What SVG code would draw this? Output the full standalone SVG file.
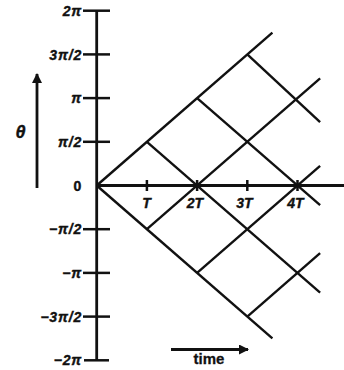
<svg xmlns="http://www.w3.org/2000/svg" width="344" height="370" viewBox="0 0 344 370">
<style>
.ax{stroke:#111;stroke-width:2.8;fill:none}
.tk{stroke:#111;stroke-width:2.5}
.ln{stroke:#111;stroke-width:2.4;fill:none}
.lb{font-family:"Liberation Sans",Arial,sans-serif;font-weight:bold;font-style:italic;font-size:14px;fill:#111;stroke:#111;stroke-width:0.4}
.yl{text-anchor:end;letter-spacing:0.8px}
.tl{text-anchor:middle}
</style>
<defs>
<marker id="ah" viewBox="0 0 10 10" refX="9" refY="5" markerWidth="11" markerHeight="10" markerUnits="userSpaceOnUse" orient="auto">
<path d="M0,0 L10,5 L0,10 z" fill="#111"/>
</marker>
</defs>
<rect width="344" height="370" fill="#fff"/>
<g id="axes">
<line class="ax" x1="96.7" y1="10.7" x2="96.7" y2="360.3"/>
<line class="ax" x1="96.7" y1="185.5" x2="344" y2="185.5"/>
<line class="tk" x1="83" y1="10.7" x2="110" y2="10.7"/>
<line class="tk" x1="83" y1="54.4" x2="110" y2="54.4"/>
<line class="tk" x1="83" y1="98.1" x2="110" y2="98.1"/>
<line class="tk" x1="83" y1="141.8" x2="110" y2="141.8"/>
<line class="tk" x1="83" y1="229.2" x2="110" y2="229.2"/>
<line class="tk" x1="83" y1="272.9" x2="110" y2="272.9"/>
<line class="tk" x1="83" y1="316.6" x2="110" y2="316.6"/>
<line class="tk" x1="84" y1="360.3" x2="109" y2="360.3"/>
<line class="tk" x1="146.9" y1="180" x2="146.9" y2="191"/>
<line class="tk" x1="197.1" y1="180" x2="197.1" y2="191"/>
<line class="tk" x1="247.3" y1="180" x2="247.3" y2="191"/>
<line class="tk" x1="297.5" y1="180" x2="297.5" y2="191"/>
</g>
<g id="y-labels">
<text class="lb yl" x="82" y="15.8">2π</text>
<text class="lb yl" x="82" y="59.5">3π/2</text>
<text class="lb yl" x="82" y="103.2">π</text>
<text class="lb yl" x="82" y="146.9">π/2</text>
<text class="lb yl" x="82" y="190.6" style="font-style:normal">0</text>
<text class="lb yl" x="82" y="234.3">−π/2</text>
<text class="lb yl" x="82" y="278">−π</text>
<text class="lb yl" x="82" y="321.7">−3π/2</text>
<text class="lb yl" x="82" y="365.4">−2π</text>
</g>
<g id="t-labels">
<text class="lb tl" x="146.5" y="207.5">T</text>
<text class="lb tl" x="195" y="207.5">2T</text>
<text class="lb tl" x="244.5" y="207.5">3T</text>
<text class="lb tl" x="295.5" y="207.5">4T</text>
</g>
<g id="theta-axis">
<line class="ax" x1="37" y1="188" x2="37" y2="74" marker-end="url(#ah)"/>
<text x="20.5" y="137.5" style="font-family:'Liberation Sans',Arial,sans-serif;font-weight:bold;font-style:italic;font-size:18px;fill:#111;stroke:#111;stroke-width:0.4;text-anchor:middle">θ</text>
</g>
<g id="time-axis">
<line class="ax" x1="171" y1="349.5" x2="248" y2="349.5" marker-end="url(#ah)"/>
<text x="209" y="364" style="font-family:'Liberation Sans',Arial,sans-serif;font-weight:bold;font-size:15px;fill:#111;stroke:#111;stroke-width:0.3;text-anchor:middle">time</text>
</g>
<g id="connectors">
<line class="ln" x1="96.7" y1="185.5" x2="272.4" y2="32.55"/>
<line class="ln" x1="146.9" y1="229.2" x2="320.1" y2="78.4"/>
<line class="ln" x1="197.1" y1="272.9" x2="320.1" y2="165.8"/>
<line class="ln" x1="247.3" y1="316.6" x2="320.1" y2="253.2"/>
<line class="ln" x1="96.7" y1="185.5" x2="272.4" y2="338.45"/>
<line class="ln" x1="146.9" y1="141.8" x2="320.1" y2="292.6"/>
<line class="ln" x1="197.1" y1="98.1" x2="320.1" y2="205.2"/>
<line class="ln" x1="247.3" y1="54.4" x2="320.1" y2="122.1"/>
</g>
</svg>
